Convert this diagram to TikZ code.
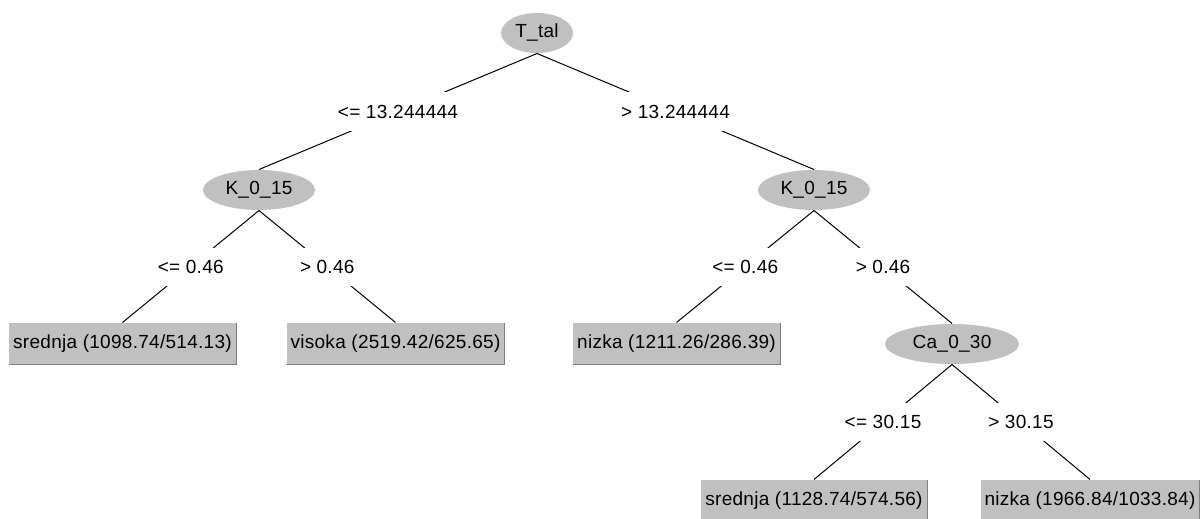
\documentclass[tikz,border=0pt]{standalone}
\usepackage{fontspec}
\setmainfont[LetterSpace=1.5]{Liberation Sans}
\usetikzlibrary{shapes.geometric}
\definecolor{nodegray}{RGB}{192,192,192}
\definecolor{rimgray}{RGB}{128,128,128}

\begin{document}
\begin{tikzpicture}[x=1pt,y=-1pt,line width=1pt,
    font=\fontsize{19}{22}\selectfont,
    split/.style={ellipse,fill=nodegray,inner sep=0pt,minimum height=40pt},
    leaf/.style={rectangle,fill=nodegray,inner xsep=4pt,inner ysep=0pt,minimum height=41pt},
    cond/.style={fill=white,inner xsep=1pt,inner ysep=0pt,minimum height=38pt}]
  \useasboundingbox (0,0) rectangle (1203,519);

  \node[split,minimum width=72pt]  (tal) at (537,33)  {T\_tal};
  \node[split,minimum width=112pt] (kl)  at (259,190) {K\_0\_15};
  \node[split,minimum width=112pt] (kr)  at (814,190) {K\_0\_15};
  \node[split,minimum width=134pt] (ca)  at (952,344) {Ca\_0\_30};

  \node[leaf] (sr1) at (122.5,343.5) {srednja (1098.74/514.13)};
  \node[leaf] (vis) at (395.5,343.5) {visoka (2519.42/625.65)};
  \node[leaf] (ni1) at (676.5,343.5) {nizka (1211.26/286.39)};
  \node[leaf] (sr2) at (814,500.5)   {srednja (1128.74/574.56)};
  \node[leaf] (ni2) at (1090,500.5)  {nizka (1966.84/1033.84)};

  \path
    (tal.south) edge node[cond] {<= 13.244444} (kl.north)
    (tal.south) edge node[cond] {> 13.244444}  (kr.north)
    (kl.south)  edge node[cond] {<= 0.46}      (sr1.north)
    (kl.south)  edge node[cond] {> 0.46}       (vis.north)
    (kr.south)  edge node[cond] {<= 0.46}      (ni1.north)
    (kr.south)  edge node[cond] {> 0.46}       (ca.north)
    (ca.south)  edge node[cond] {<= 30.15}     (sr2.north)
    (ca.south)  edge node[cond] {> 30.15}      (ni2.north);

  % darker rim on the leaf boxes
  \foreach \n in {sr1,vis,ni1,sr2,ni2}
    \draw[rimgray] (\n.north east) -- (\n.south east) -- (\n.south west);
\end{tikzpicture}
\end{document}
